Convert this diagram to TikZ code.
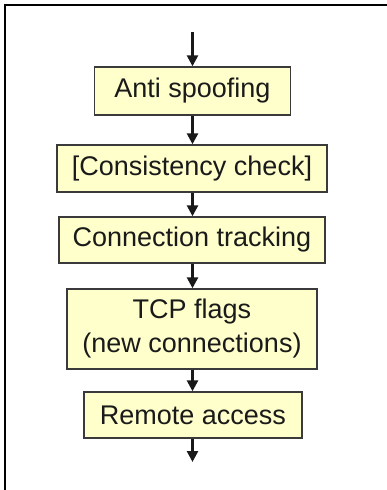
\documentclass[tikz,border=0pt]{standalone}
\usepackage{fontspec}
\setmainfont{Liberation Sans}
\usetikzlibrary{arrows.meta}
\definecolor{boxfill}{HTML}{FFFFCC}
\definecolor{boxline}{HTML}{3A3A3A}
\definecolor{txt}{HTML}{1A1A1A}
\tikzset{
  stepbox/.style={draw=boxline, line width=1.4pt, fill=boxfill, inner sep=0pt,
    text=txt, align=center, font=\fontsize{27}{34}\selectfont},
  flow/.style={line width=2.6pt, draw=black!90,
    -{Triangle[width=11pt,length=11pt]}, shorten >=0pt}
}
\begin{document}
\begin{tikzpicture}[x=1pt,y=-1pt]
\useasboundingbox (0,0) rectangle (386,490);
\fill[white] (-1,-1) rectangle (387,491);
\draw[line width=2.2pt, line cap=rect] (5,491) -- (5,5) -- (387,5);
\coordinate (start) at (192.5,32);
\node[stepbox, minimum width=196pt, minimum height=48pt] (a) at (192.5,91) {Anti spoofing};
\node[stepbox, minimum width=270pt, minimum height=47pt] (b) at (192,168.5) {[Consistency check]};
\node[stepbox, minimum width=266pt, minimum height=46pt] (c) at (192,240) {Connection tracking};
\node[stepbox, minimum width=250pt, minimum height=80pt] (d) at (192,329) {TCP flags\\(new connections)};
\node[stepbox, minimum width=218pt, minimum height=46pt] (e) at (193,415) {Remote access};
\coordinate (end) at (193,462);
\draw[flow] (start) -- (a.north);
\draw[flow] (a.south) -- (a.south |- b.north);
\draw[flow] (b.south -| a.south) -- (a.south |- c.north);
\draw[flow] (c.south -| a.south) -- (a.south |- d.north);
\draw[flow] (d.south -| a.south) -- (a.south |- e.north);
\draw[flow] (e.south -| a.south) -- (end -| a.south);
\end{tikzpicture}
\end{document}
